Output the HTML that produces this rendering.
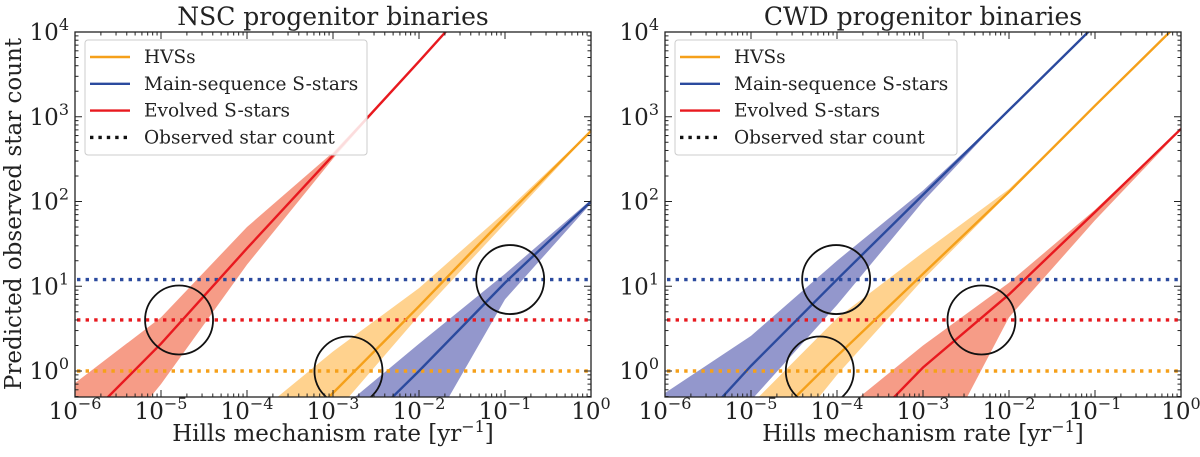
<!DOCTYPE html>
<html><head><meta charset="utf-8"><style>
html,body{margin:0;background:#fff;overflow:hidden;width:1200px;height:457px}
svg{display:block}
svg text{font-family:"DejaVu Serif","Liberation Serif",serif;fill:#222}
</style></head><body>
<svg id="c" width="1200" height="457" xmlns="http://www.w3.org/2000/svg"></svg>
<script>
// ---- data ----
const xDecades=[-6,-5,-4,-3,-2,-1,0];
const yDecades=[0,1,2,3,4];
const xGrid=[1e-6,1e-5,1e-4,1e-3,1e-2,1e-1,1];
const observedCounts={hvs:1,ms:12,ev:4};
// NSC panel (values at xGrid; null = out of range)
const nscHvsMed=[null,null,0.05,0.55,5.8,65,680];
const nscHvsHi=[null,null,0.25,1.7,9.5,75,690];
const nscHvsLo=[null,null,0.02,0.3,4.5,55,670];
const nscMsMed=[null,null,0.01,0.1,1.0,11,100];
const nscMsHi=[null,null,0.04,0.3,2.1,14,105];
const nscMsLo=[null,null,null,0.01,0.12,7,95];
const nscEvMed=[0.2,2.1,28,350,4500,60000,null];
const nscEvHi=[0.72,4.3,50,380,4500,60000,null];
const nscEvLo=[0.04,0.7,18,320,4500,60000,null];
const nscCircles=[[-4.79,4],[-2.82,1],[-0.94,12]];
// CWD panel
const cwdHvsMed=[null,0.15,1.5,14,130,1350,13500];
const cwdHvsHi=[null,0.4,4.2,25,140,1350,13500];
const cwdHvsLo=[null,0.05,0.9,12,125,1350,13500];
const cwdMsMed=[0.09,1.15,12,120,1200,12000,null];
const cwdMsHi=[0.55,2.6,20,135,1200,12000,null];
const cwdMsLo=[0.03,0.45,6,100,1200,12000,null];
const cwdEvMed=[null,null,0.1,1.1,8,75,720];
const cwdEvHi=[null,null,0.3,2.0,11,80,720];
const cwdEvLo=[null,null,null,0.05,4.3,60,700];
const cwdCircles=[[-4.01,12],[-4.2,1],[-2.32,4]];

const NS="http://www.w3.org/2000/svg";
const svg=document.getElementById('c');
function mk(tag,attrs,parent){const e=document.createElementNS(NS,tag);for(const k in attrs)e.setAttribute(k,attrs[k]);(parent||svg).appendChild(e);return e;}
const C={hvs:'#f5a01a',ms:'#2b4a9e',ev:'#e8191f',hvsF:'#ffa51e',msF:'#27309a',evF:'#ee3a10'};

function panel(px,title,series,circles,clipId,prefix){
  const L=px,R=px+516,T=32,B=397;
  const X=lx=>L+(lx+6)/6*(R-L);
  const Y=ly=>371-ly*84.75;
  const g=mk('g',{});
  
  
  const cp=mk('clipPath',{id:clipId},g);mk('rect',{x:L,y:T,width:R-L,height:B-T},cp);
  const plot=mk('g',{'clip-path':'url(#'+clipId+')'},g);
  
  
  series.forEach(s=>{
    const up=[],dn=[];
    xGrid.forEach((xv,i)=>{
      if(s.hi[i]!=null)up.push([X(Math.log10(xv)),Y(Math.log10(s.hi[i]))]);
    });
    for(let i=xGrid.length-1;i>=0;i--){
      if(s.lo[i]!=null)dn.push([X(Math.log10(xGrid[i])),Y(Math.log10(s.lo[i]))]);
    }
    const band=mk('polygon',{points:up.concat(dn).map(p=>p.join(',')).join(' '),fill:s.fill,'fill-opacity':0.5},plot);
    
    
  });
  series.forEach(s=>{
    const y=Y(Math.log10(observedCounts[s.key]));
    const l=mk('line',{x1:L+2,x2:R-2,y1:y,y2:y,stroke:s.col,'stroke-width':3.4,'stroke-dasharray':'3.4 5.2'},plot);
    
    
  });
  series.forEach(s=>{
    const pts=[];
    xGrid.forEach((xv,i)=>{if(s.med[i]!=null)pts.push([X(Math.log10(xv)),Y(Math.log10(s.med[i]))]);});
    const p=mk('polyline',{points:pts.map(p=>p.join(',')).join(' '),fill:'none',stroke:s.col,'stroke-width':2.4},plot);
    
    
  });
  circles.forEach((c,i)=>{
    const e=mk('ellipse',{cx:X(c[0]),cy:Y(Math.log10(c[1])),rx:34,ry:34.5,fill:'none',stroke:'#111','stroke-width':1.8},plot);
    
    
  });
  const fr=mk('rect',{x:L,y:T,width:R-L,height:B-T,fill:'none',stroke:'#222','stroke-width':1.3},g);
  
  
  const tk=mk('g',{stroke:'#222','stroke-width':1},g);
  for(let d=-6;d<=0;d++){
    for(let m=1;m<10;m++){
      const lx=d+Math.log10(m); if(lx>0)break;
      const x=X(lx),len=m==1?7:3.5;
      mk('line',{x1:x,x2:x,y1:B,y2:B-len},tk);mk('line',{x1:x,x2:x,y1:T,y2:T+len},tk);
    }
  }
  for(let d=-1;d<=4;d++){
    for(let m=1;m<10;m++){
      const ly=d+Math.log10(m); if(ly>4)break;
      const y=Y(ly); if(y>B+0.5)continue;
      const len=m==1?7:3.5;
      mk('line',{x1:L,x2:L+len,y1:y,y2:y},tk);mk('line',{x1:R,x2:R-len,y1:y,y2:y},tk);
    }
  }
  xDecades.forEach(d=>{
    const t=mk('text',{x:X(d),y:419,'text-anchor':'middle','font-size':23},g);
    
    
    t.appendChild(document.createTextNode('10'));
    const s=mk('tspan',{dy:-10,'font-size':16},t);s.textContent=d==0?'0':'\u2212'+(-d);
  });
  yDecades.forEach(d=>{
    const t=mk('text',{x:L-6,y:Y(d)+8,'text-anchor':'end','font-size':23},g);
    
    
    const a=mk('tspan',{},t);a.textContent='10';
    const s=mk('tspan',{dy:-10,'font-size':16},t);s.textContent=String(d);
  });
  const tt=mk('text',{x:(L+R)/2,y:25,'text-anchor':'middle','font-size':25},g);
  tt.textContent=title;
  
  
  const xl=mk('text',{x:(L+R)/2,y:441,'text-anchor':'middle','font-size':23},g);
  
  
  xl.appendChild(document.createTextNode('Hills mechanism rate [yr'));
  const xs=mk('tspan',{dy:-9,'font-size':16},xl);xs.textContent='\u22121';
  const xe=mk('tspan',{dy:9},xl);xe.textContent=']';
  const lg=mk('g',{},g);
  
  
  mk('rect',{x:L+10,y:40,width:282,height:115,rx:3,fill:'#fff','fill-opacity':0.85,stroke:'#ccc','stroke-width':1},lg);
  const ents=[[C.hvs,'HVSs',false],[C.ms,'Main-sequence S-stars',false],[C.ev,'Evolved S-stars',false],['#111','Observed star count',true]];
  ents.forEach((e,i)=>{
    const y=57+i*26.8;
    const it=mk('g',{},lg);
    
    
    mk('line',{x1:L+15,x2:L+55,y1:y,y2:y,stroke:e[0],'stroke-width':e[2]?3.4:2.4,'stroke-dasharray':e[2]?'3.4 5':'none'},it);
    const t=mk('text',{x:L+69,y:y+6,'font-size':18.5},it);t.textContent=e[1];
  });
}
panel(75,'NSC progenitor binaries',[
  {key:'hvs',col:C.hvs,fill:C.hvsF,med:nscHvsMed,hi:nscHvsHi,lo:nscHvsLo},
  {key:'ms',col:C.ms,fill:C.msF,med:nscMsMed,hi:nscMsHi,lo:nscMsLo},
  {key:'ev',col:C.ev,fill:C.evF,med:nscEvMed,hi:nscEvHi,lo:nscEvLo}],nscCircles,'clipL','nsc');
panel(665,'CWD progenitor binaries',[
  {key:'hvs',col:C.hvs,fill:C.hvsF,med:cwdHvsMed,hi:cwdHvsHi,lo:cwdHvsLo},
  {key:'ms',col:C.ms,fill:C.msF,med:cwdMsMed,hi:cwdMsHi,lo:cwdMsLo},
  {key:'ev',col:C.ev,fill:C.evF,med:cwdEvMed,hi:cwdEvHi,lo:cwdEvLo}],cwdCircles,'clipR','cwd');
const yl=mk('text',{x:0,y:0,'text-anchor':'middle','font-size':23,transform:'translate(21,214) rotate(-90)'});
yl.textContent='Predicted observed star count';


</script>
</body></html>
